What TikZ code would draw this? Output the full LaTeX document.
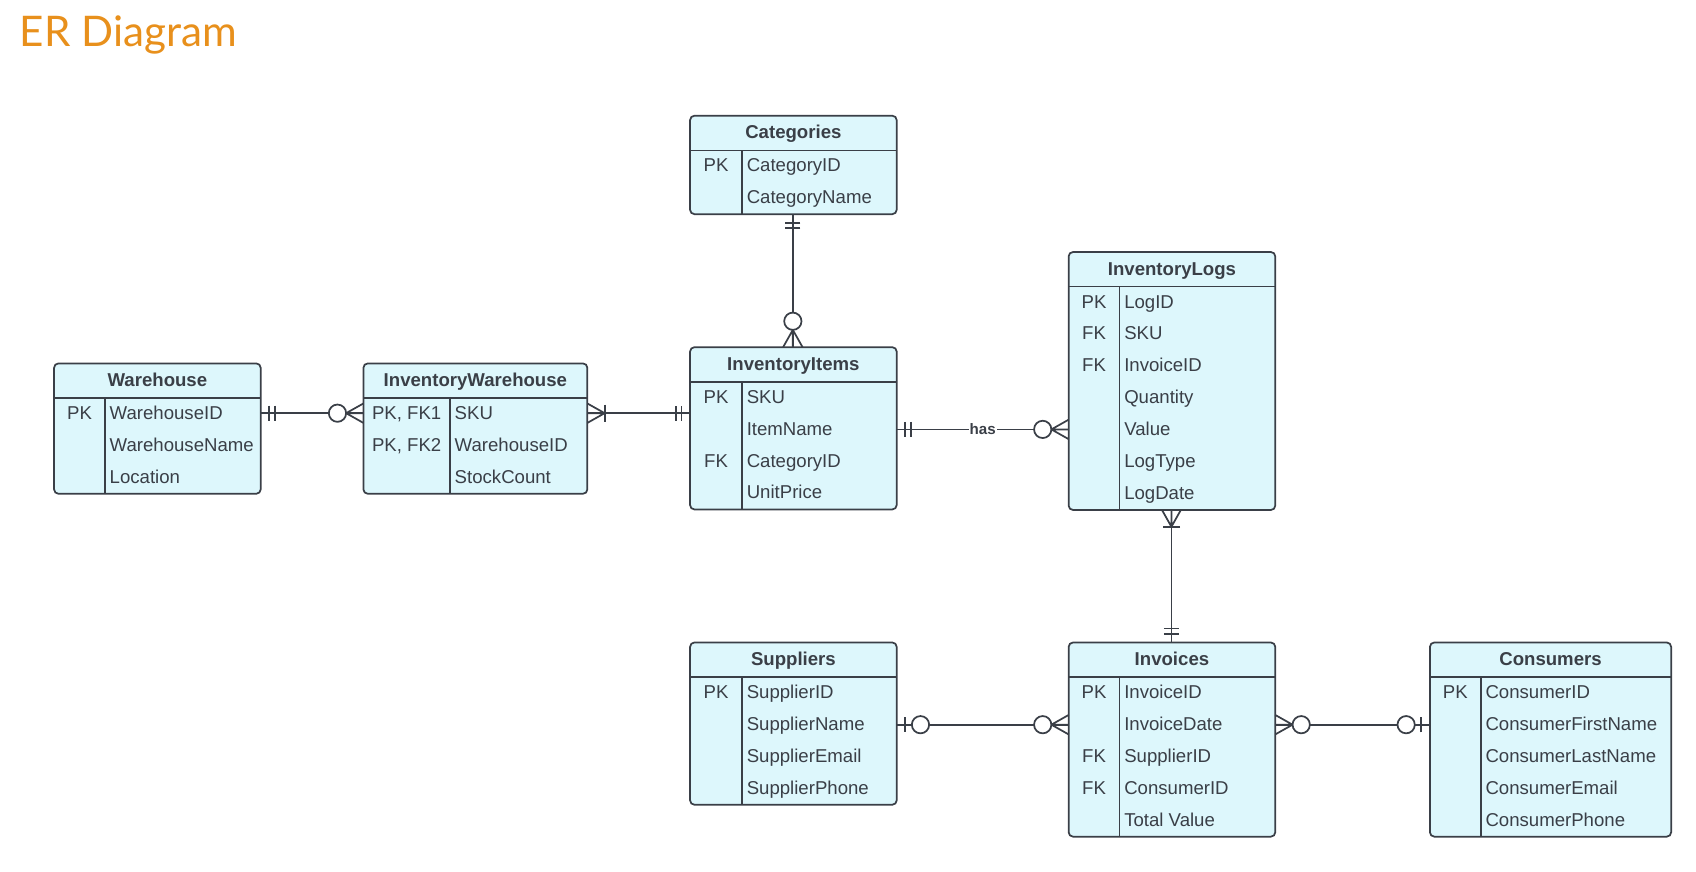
\documentclass[tikz,border=0pt]{standalone}
\usepackage{fontspec}
\setmainfont{Liberation Sans}
\newfontfamily\titlefont{Lato}
\usepackage{tikz}

\definecolor{entfill}{HTML}{DDF7FC}
\definecolor{entdraw}{HTML}{3A3F47}
\definecolor{titleorange}{HTML}{E8901C}

\tikzset{
  ent box/.style={draw=entdraw, fill=entfill, line width=0.8pt, rounded corners=2pt},
  ent line/.style={draw=entdraw, line width=0.7pt},
  ent title/.style={font=\fontsize{8.6}{10}\selectfont\bfseries, text=entdraw, inner sep=0pt, text height=1.6ex, text depth=0.4ex},
  ent key/.style={font=\fontsize{8.6}{10}\selectfont, text=entdraw, inner sep=0pt, text height=1.6ex, text depth=0.4ex},
  ent field/.style={ent key, anchor=west},
  rel/.style={draw=entdraw, line width=0.8pt},
}

% name, x, y, width, divider, rows, title, key/field list
\newcommand\erentity[8]{
  \pgfmathsetmacro\erbot{#3+32+#6*29.5}
  \draw[ent box] (#2,#3) rectangle (#2+#4,\erbot);
  \draw[ent line] (#2,#3+32) -- (#2+#4,#3+32);
  \draw[ent line] (#2+#5,#3+32) -- (#2+#5,\erbot);
  \node[ent title] (#1) at (#2+#4/2,#3+15) {#7};
  \foreach \k/\f [count=\i] in {#8} {
    \node[ent key] (#1-k\i) at (#2+#5/2,#3+32+\i*29.5-16) {\k};
    \node[ent field] (#1-f\i) at (#2+#5+4,#3+32+\i*29.5-16) {\f};
  }
}

% crow's foot marks, drawn at a box edge pointing along the connector
\newcommand\ermark[3]{
  \begin{scope}[shift={(#2)}, rotate=#3, rel]
    \ifcase#1
      % 0: one and only one
      \draw (8,-7) -- (8,7) (13,-7) -- (13,7);
    \or
      % 1: zero or many
      \draw (0,-9) -- (16,0) (0,9) -- (16,0) (0,0) -- (16,0);
      \draw[fill=white] (24,0) circle (8);
    \or
      % 2: one or many
      \draw (0,-9) -- (16,0) (0,9) -- (16,0) (0,0) -- (16,0);
      \draw (16,-8) -- (16,8);
    \or
      % 3: zero or one
      \draw (8,-7) -- (8,7);
      \draw[fill=white] (22,0) circle (8);
    \fi
  \end{scope}
}

\begin{document}
\begin{tikzpicture}[x=0.5pt, y=-0.5pt]
\useasboundingbox (0,0) rectangle (1568,806);

\node[anchor=west, inner sep=0pt, text=titleorange, font=\titlefont\fontsize{19.5}{21}\selectfont] (title) at (18,32) {ER Diagram};

\erentity{cat}{638}{107}{191}{48}{2}{Categories}{PK/CategoryID, /CategoryName}
\erentity{logs}{988}{233}{191}{47}{7}{InventoryLogs}{PK/LogID, FK/SKU, FK/InvoiceID, /Quantity, /Value, /LogType, /LogDate}
\erentity{items}{638}{321}{191}{48}{4}{InventoryItems}{PK/SKU, /ItemName, FK/CategoryID, /UnitPrice}
\erentity{wh}{50}{336}{191}{47}{3}{Warehouse}{PK/WarehouseID, /WarehouseName, /Location}
\erentity{iw}{336}{336}{207}{80}{3}{InventoryWarehouse}{{PK, FK1}/SKU, {PK, FK2}/WarehouseID, /StockCount}
\erentity{sup}{638}{594}{191}{48}{4}{Suppliers}{PK/SupplierID, /SupplierName, /SupplierEmail, /SupplierPhone}
\erentity{inv}{988}{594}{191}{47}{5}{Invoices}{PK/InvoiceID, /InvoiceDate, FK/SupplierID, FK/ConsumerID, /Total Value}
\erentity{con}{1322}{594}{223}{47}{5}{Consumers}{PK/ConsumerID, /ConsumerFirstName, /ConsumerLastName, /ConsumerEmail, /ConsumerPhone}

% connector end points on the box edges
\coordinate (wh-e) at (241,382);   \coordinate (iw-w) at (336,382);
\coordinate (iw-e) at (543,382);   \coordinate (items-w) at (638,382);
\coordinate (cat-s) at (733,198);  \coordinate (items-n) at (733,321);
\coordinate (items-e) at (829,397); \coordinate (logs-w) at (988,397);
\coordinate (logs-s) at (1083,471); \coordinate (inv-n) at (1083,594);
\coordinate (sup-e) at (829,670);  \coordinate (inv-w) at (988,670);
\coordinate (inv-e) at (1179,670); \coordinate (con-w) at (1322,670);

\draw[rel] (wh-e) -- (iw-w);
\draw[rel] (iw-e) -- (items-w);
\draw[rel] (cat-s) -- (items-n);
\draw[rel] (items-e) -- node[fill=white, inner sep=0.5pt, text=entdraw, font=\fontsize{7}{8}\selectfont\bfseries] (has) {has} (logs-w);
\draw[rel] (logs-s) -- (inv-n);
\draw[rel] (sup-e) -- (inv-w);
\draw[rel] (inv-e) -- (con-w);

\ermark{0}{wh-e}{0}     \ermark{1}{iw-w}{180}
\ermark{2}{iw-e}{0}     \ermark{0}{items-w}{180}
\ermark{0}{cat-s}{-90}  \ermark{1}{items-n}{90}
\ermark{0}{items-e}{0}  \ermark{1}{logs-w}{180}
\ermark{2}{logs-s}{-90} \ermark{0}{inv-n}{90}
\ermark{3}{sup-e}{0}    \ermark{1}{inv-w}{180}
\ermark{1}{inv-e}{0}    \ermark{3}{con-w}{180}
\end{tikzpicture}
\end{document}
